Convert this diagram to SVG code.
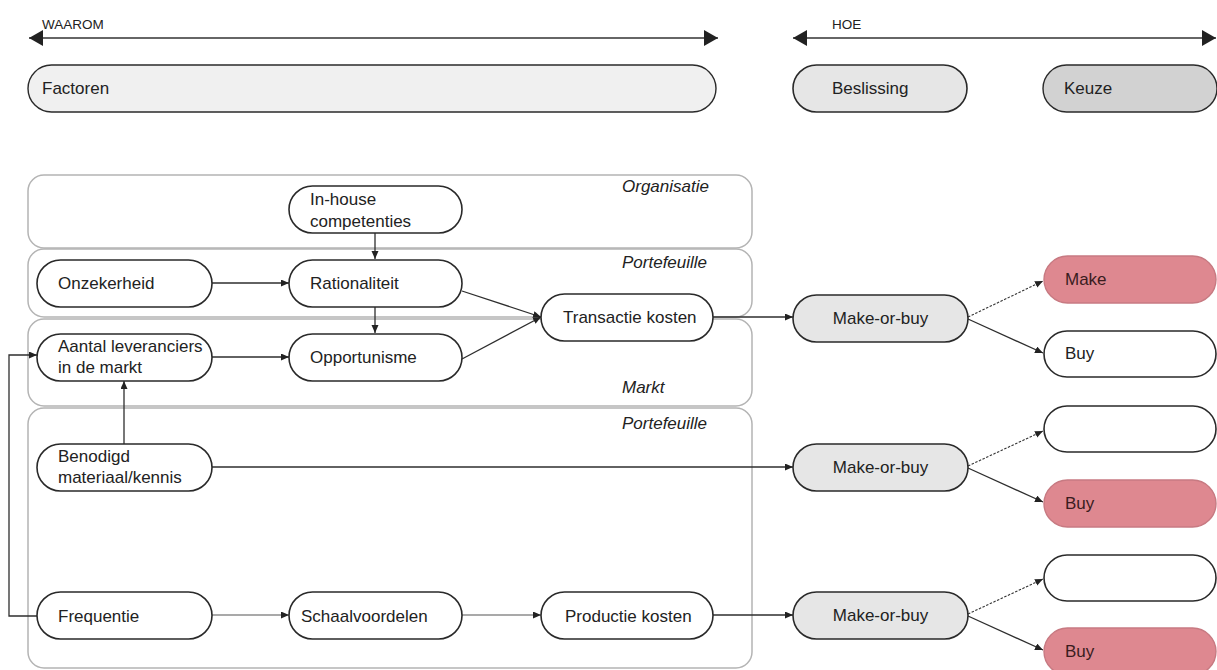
<svg xmlns="http://www.w3.org/2000/svg" width="1217" height="670" viewBox="0 0 1217 670">
  <style>
    text { font-family: "Liberation Sans", Arial, sans-serif; fill: #222; }
    .lbl { font-size: 17px; }
    .hdr { font-size: 13.5px; }
    .lane-title { font-size: 17px; font-style: italic; }
    .lane { fill: #fff; stroke: #b4b4b4; stroke-width: 1.5; }
    .node { fill: #fff; stroke: #2a2a2a; stroke-width: 1.6; }
    .grey { fill: #e6e6e6; stroke: #2a2a2a; stroke-width: 1.6; }
    .pale { fill: #f0f0f0; stroke: #2a2a2a; stroke-width: 1.4; }
    .dark { fill: #d2d2d2; stroke: #2a2a2a; stroke-width: 1.4; }
    .pink { fill: #de8890; stroke: #c77a82; stroke-width: 1.4; }
    .pinktext { fill: #3a1c1e; }
    .conn { fill: none; stroke: #2e2e2e; stroke-width: 1.3; marker-end: url(#arr); }
    .soft { fill: none; stroke: #555; stroke-width: 1.1; marker-end: url(#arr); }
    .dash { fill: none; stroke: #333; stroke-width: 1.1; stroke-dasharray: 2.5 1.5; marker-end: url(#arr); }
    .axis { fill: none; stroke: #333; stroke-width: 1.6; marker-start: url(#bigL); marker-end: url(#bigR); }
  </style>
  <defs>
    <marker id="arr" markerUnits="userSpaceOnUse" markerWidth="9" markerHeight="8" refX="8" refY="3.5" orient="auto">
      <path d="M0,0 L8,3.5 L0,7 z" fill="#222"/>
    </marker>
    <marker id="bigR" markerUnits="userSpaceOnUse" markerWidth="15" markerHeight="17" refX="14" refY="8" orient="auto">
      <path d="M0,0 L14,8 L0,16 z" fill="#222"/>
    </marker>
    <marker id="bigL" markerUnits="userSpaceOnUse" markerWidth="15" markerHeight="17" refX="0" refY="8" orient="auto">
      <path d="M14,0 L0,8 L14,16 z" fill="#222"/>
    </marker>
  </defs>

  <rect width="1217" height="670" fill="#fff"/>

  <!-- header: WAAROM / HOE axes -->
  <g id="header">
    <text class="hdr" x="42" y="29">WAAROM</text>
    <line class="axis" x1="29" y1="38" x2="718" y2="38"/>
    <text class="hdr" x="832" y="29">HOE</text>
    <line class="axis" x1="793" y1="38" x2="1216" y2="38"/>
  </g>
  <g id="factoren">
    <rect class="pale" x="28" y="65" width="688" height="47" rx="23.5"/>
    <text class="lbl" x="42" y="94">Factoren</text>
  </g>
  <g id="beslissing">
    <rect class="grey" x="793" y="65" width="174" height="47" rx="23.5"/>
    <text class="lbl" x="832" y="94">Beslissing</text>
  </g>
  <g id="keuze">
    <rect class="dark" x="1043" y="65" width="174" height="47" rx="23.5"/>
    <text class="lbl" x="1064" y="94">Keuze</text>
  </g>

  <!-- swimlanes -->
  <g id="lane-organisatie">
    <rect class="lane" x="28" y="175" width="724" height="73" rx="16"/>
    <text class="lane-title" x="622" y="192">Organisatie</text>
  </g>
  <g id="lane-portefeuille-1">
    <rect class="lane" x="28" y="249" width="724" height="68" rx="16"/>
    <text class="lane-title" x="622" y="268">Portefeuille</text>
  </g>
  <g id="lane-markt">
    <rect class="lane" x="28" y="319" width="724" height="87" rx="16"/>
    <text class="lane-title" x="622" y="393">Markt</text>
  </g>
  <g id="lane-portefeuille-2">
    <rect class="lane" x="28" y="408" width="724" height="260" rx="16"/>
    <text class="lane-title" x="622" y="429">Portefeuille</text>
  </g>

  <!-- connectors -->
  <g id="connectors">
    <line class="conn" x1="375" y1="233" x2="375" y2="259"/>
    <line class="conn" x1="212" y1="283" x2="289" y2="283"/>
    <line class="conn" x1="375" y1="307" x2="375" y2="333"/>
    <line class="conn" x1="212" y1="357" x2="289" y2="357"/>
    <line class="conn" x1="462" y1="291" x2="541" y2="317"/>
    <line class="conn" x1="462" y1="359" x2="541" y2="317"/>
    <line class="conn" x1="713" y1="317" x2="793" y2="317"/>
    <line class="conn" x1="124" y1="444" x2="124" y2="381"/>
    <polyline class="conn" points="37,616 9,616 9,355 37,355"/>
    <line class="conn" x1="212" y1="467" x2="793" y2="467"/>
    <line class="soft" x1="212" y1="615" x2="289" y2="615"/>
    <line class="soft" x1="462" y1="615" x2="541" y2="615"/>
    <line class="conn" x1="713" y1="615" x2="793" y2="615"/>
    <line class="dash" x1="968" y1="317" x2="1043" y2="281"/>
    <line class="conn" x1="968" y1="319" x2="1043" y2="353"/>
    <line class="dash" x1="968" y1="466" x2="1043" y2="431"/>
    <line class="conn" x1="968" y1="468" x2="1043" y2="502"/>
    <line class="dash" x1="968" y1="614" x2="1043" y2="579"/>
    <line class="conn" x1="968" y1="616" x2="1043" y2="650"/>
  </g>

  <!-- factor nodes -->
  <g id="inhouse">
    <rect class="node" x="289" y="186" width="173" height="47" rx="23.5"/>
    <text class="lbl" x="310" y="205">In-house</text>
    <text class="lbl" x="310" y="227">competenties</text>
  </g>
  <g id="onzekerheid">
    <rect class="node" x="37" y="260" width="175" height="47" rx="23.5"/>
    <text class="lbl" x="58" y="289">Onzekerheid</text>
  </g>
  <g id="rationaliteit">
    <rect class="node" x="289" y="260" width="173" height="47" rx="23.5"/>
    <text class="lbl" x="310" y="289">Rationaliteit</text>
  </g>
  <g id="transactiekosten">
    <rect class="node" x="541" y="294" width="172" height="47" rx="23.5"/>
    <text class="lbl" x="563" y="323">Transactie kosten</text>
  </g>
  <g id="aantal">
    <rect class="node" x="37" y="334" width="175" height="47" rx="23.5"/>
    <text class="lbl" x="58" y="352">Aantal leveranciers</text>
    <text class="lbl" x="58" y="373">in de markt</text>
  </g>
  <g id="opportunisme">
    <rect class="node" x="289" y="334" width="173" height="47" rx="23.5"/>
    <text class="lbl" x="310" y="363">Opportunisme</text>
  </g>
  <g id="benodigd">
    <rect class="node" x="37" y="444" width="175" height="47" rx="23.5"/>
    <text class="lbl" x="58" y="462">Benodigd</text>
    <text class="lbl" x="58" y="483">materiaal/kennis</text>
  </g>
  <g id="frequentie">
    <rect class="node" x="37" y="592" width="175" height="47" rx="23.5"/>
    <text class="lbl" x="58" y="622">Frequentie</text>
  </g>
  <g id="schaalvoordelen">
    <rect class="node" x="289" y="592" width="173" height="47" rx="23.5"/>
    <text class="lbl" x="301" y="622">Schaalvoordelen</text>
  </g>
  <g id="productiekosten">
    <rect class="node" x="541" y="592" width="172" height="47" rx="23.5"/>
    <text class="lbl" x="565" y="622">Productie kosten</text>
  </g>

  <!-- decisions -->
  <g id="mob-1">
    <rect class="grey" x="793" y="295" width="175" height="47" rx="23.5"/>
    <text class="lbl" x="880.5" y="324" text-anchor="middle">Make-or-buy</text>
  </g>
  <g id="mob-2">
    <rect class="grey" x="793" y="444" width="175" height="47" rx="23.5"/>
    <text class="lbl" x="880.5" y="473" text-anchor="middle">Make-or-buy</text>
  </g>
  <g id="mob-3">
    <rect class="grey" x="793" y="592" width="175" height="47" rx="23.5"/>
    <text class="lbl" x="880.5" y="621" text-anchor="middle">Make-or-buy</text>
  </g>

  <!-- choices -->
  <g id="make-1">
    <rect class="pink" x="1044" y="256" width="172" height="47" rx="23.5"/>
    <text class="lbl pinktext" x="1065" y="285">Make</text>
  </g>
  <g id="buy-1">
    <rect class="node" x="1044" y="331" width="172" height="46" rx="23"/>
    <text class="lbl" x="1065" y="359">Buy</text>
  </g>
  <g id="empty-2">
    <rect class="node" x="1044" y="406" width="172" height="46" rx="23"/>
  </g>
  <g id="buy-2">
    <rect class="pink" x="1044" y="480" width="172" height="47" rx="23.5"/>
    <text class="lbl pinktext" x="1065" y="509">Buy</text>
  </g>
  <g id="empty-3">
    <rect class="node" x="1044" y="555" width="172" height="46" rx="23"/>
  </g>
  <g id="buy-3">
    <rect class="pink" x="1044" y="628" width="172" height="47" rx="23.5"/>
    <text class="lbl pinktext" x="1065" y="657">Buy</text>
  </g>
</svg>
